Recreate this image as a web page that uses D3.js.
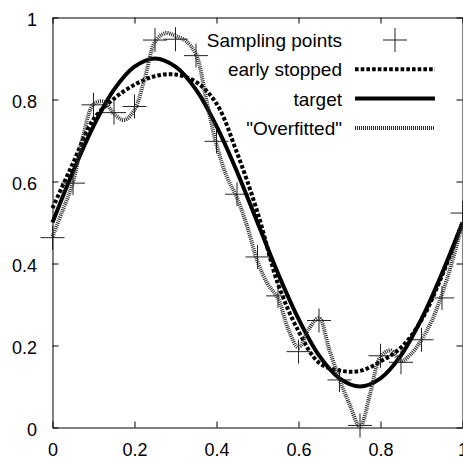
<!DOCTYPE html>
<html>
<head>
<meta charset="utf-8">
<script src="https://cdn.jsdelivr.net/npm/d3@7/dist/d3.min.js"></script>
<style>
	body { margin: 0; background: #fff; }
	svg { display: block; font-family: 'Liberation Sans', Arial, Helvetica, sans-serif; }
</style>
</head>
<body>
<svg id="chart" width="463" height="459"></svg>
<script>
/* eslint-disable no-var, no-undef */

// sampling points
var sampleX = [ 0, 0.05, 0.1, 0.15, 0.2, 0.25, 0.3, 0.35, 0.4, 0.45, 0.5, 0.55, 0.6, 0.65, 0.7, 0.75, 0.8, 0.85, 0.9, 0.95, 1 ];
var sampleY = [ 0.463, 0.596, 0.787, 0.768, 0.783, 0.945, 0.947, 0.907, 0.698, 0.569, 0.416, 0.321, 0.185, 0.261, 0.116, 0.005, 0.175, 0.159, 0.214, 0.316, 0.523 ];

// smooth curves, read every 0.05
var curveX = [ 0, 0.05, 0.1, 0.15, 0.2, 0.25, 0.3, 0.35, 0.4, 0.45, 0.5, 0.55, 0.6, 0.65, 0.7, 0.75, 0.8, 0.85, 0.9, 0.95, 1 ];
var earlyY = [ 0.535, 0.645, 0.752, 0.802, 0.836, 0.857, 0.861, 0.843, 0.79, 0.67, 0.525, 0.35, 0.235, 0.158, 0.139, 0.138, 0.161, 0.195, 0.262, 0.37, 0.5 ];
var targetY = [ 0.5, 0.624, 0.735, 0.824, 0.88, 0.9, 0.88, 0.824, 0.735, 0.624, 0.5, 0.376, 0.265, 0.176, 0.12, 0.1, 0.12, 0.176, 0.265, 0.376, 0.5 ];

// overfitted curve, read every 0.025
var overX = [ 0, 0.025, 0.05, 0.075, 0.1, 0.125, 0.15, 0.175, 0.2, 0.225, 0.25, 0.275, 0.3, 0.325, 0.35, 0.375, 0.4, 0.425, 0.45, 0.475, 0.5,
	0.525, 0.55, 0.575, 0.6, 0.625, 0.65, 0.675, 0.7, 0.725, 0.75, 0.775, 0.8, 0.825, 0.85, 0.875, 0.9, 0.925, 0.95, 0.975, 1 ];
var overY = [ 0.466, 0.53, 0.598, 0.712, 0.788, 0.795, 0.765, 0.75, 0.775, 0.852, 0.94, 0.962, 0.955, 0.943, 0.91, 0.8, 0.69, 0.612, 0.56, 0.49, 0.405,
	0.35, 0.315, 0.24, 0.195, 0.24, 0.267, 0.19, 0.118, 0.055, 0.002, 0.084, 0.172, 0.188, 0.162, 0.18, 0.214, 0.26, 0.325, 0.405, 0.5 ];

var tickValues = [ 0, 0.2, 0.4, 0.6, 0.8, 1 ];
var tickLabels = [ '0', '0.2', '0.4', '0.6', '0.8', '1' ];
var legendLabels = [ 'Sampling points', 'early stopped', 'target', '"Overfitted"' ];

var svg = d3.select( '#chart' );
var margin = { top: 17.5, right: 0.5, bottom: 31.5, left: 52.5 };
var width = +svg.attr( 'width' ) - margin.left - margin.right;
var height = +svg.attr( 'height' ) - margin.top - margin.bottom;
var g = svg.append( 'g' )
	.attr( 'transform', 'translate(' + margin.left + ',' + margin.top + ')' );

var x = d3.scaleLinear().domain( [ 0, 1 ] ).range( [ 0, width ] );
var y = d3.scaleLinear().domain( [ 0, 1 ] ).range( [ height, 0 ] );

function fmt( d, i ) {
	return tickLabels[ i ];
}

// axes: ticks point inward on all four sides
g.append( 'g' )
	.attr( 'transform', 'translate(0,' + height + ')' )
	.call( d3.axisBottom( x ).tickValues( tickValues ).tickFormat( fmt ).tickSizeInner( -6 ).tickSizeOuter( 0 ).tickPadding( 16 ) );
g.append( 'g' )
	.call( d3.axisLeft( y ).tickValues( tickValues ).tickFormat( fmt ).tickSizeInner( -6 ).tickSizeOuter( 0 ).tickPadding( 15.5 ) )
	.selectAll( 'text' ).attr( 'dy', '0.44em' );
g.append( 'g' )
	.call( d3.axisTop( x ).tickValues( tickValues ).tickFormat( '' ).tickSizeInner( -6 ).tickSizeOuter( 0 ) );
g.append( 'g' )
	.attr( 'transform', 'translate(' + width + ',0)' )
	.call( d3.axisRight( y ).tickValues( tickValues ).tickFormat( '' ).tickSizeInner( -6 ).tickSizeOuter( 0 ) );

svg.selectAll( '.tick text' )
	.attr( 'font-family', null )
	.attr( 'font-size', 18 )
	.attr( 'fill', '#000' );
svg.selectAll( '.domain, .tick line' ).attr( 'stroke', '#000' );

// line styles in plot order
var styles = [
	null,
	{ stroke: '#000', width: 4, dash: '3.6 2.1' },
	{ stroke: '#000', width: 4, dash: null },
	{ stroke: '#2a2a2a', width: 4, dash: '1 1' }
];

function drawLine( parent, xs, ys, style, curve ) {
	var pts = xs.map( function( d, i ) {
		return [ d, ys[ i ] ];
	} );
	var line = d3.line()
		.x( function( d ) {
			return x( d[ 0 ] );
		} )
		.y( function( d ) {
			return y( d[ 1 ] );
		} )
		.curve( curve );
	parent.append( 'path' )
		.datum( pts )
		.attr( 'fill', 'none' )
		.attr( 'stroke', style.stroke )
		.attr( 'stroke-width', style.width )
		.attr( 'stroke-dasharray', style.dash )
		.attr( 'd', line );
}

function drawCross( parent, cx, cy ) {
	var s = 12;
	parent.append( 'path' )
		.attr( 'fill', 'none' )
		.attr( 'stroke', '#222' )
		.attr( 'stroke-width', 1 )
		.attr( 'd', 'M' + ( cx - s ) + ',' + cy + 'H' + ( cx + s ) + 'M' + cx + ',' + ( cy - s ) + 'V' + ( cy + s ) );
}

// sampling points
sampleX.forEach( function( d, i ) {
	drawCross( g, x( d ), y( sampleY[ i ] ) );
} );

drawLine( g, curveX, earlyY, styles[ 1 ], d3.curveCatmullRom );
drawLine( g, curveX, targetY, styles[ 2 ], d3.curveCatmullRom );
drawLine( g, overX, overY, styles[ 3 ], d3.curveCatmullRom );

// legend
var legend = svg.append( 'g' );
legendLabels.forEach( function( label, i ) {
	var ly = 40 + i * 29.3;
	legend.append( 'text' )
		.attr( 'x', 342 )
		.attr( 'y', ly )
		.attr( 'dy', 7 )
		.attr( 'text-anchor', 'end' )
		.attr( 'font-size', 19 )
		.text( label );
	if ( i === 0 ) {
		drawCross( legend, 395, ly );
	} else {
		var st = styles[ i ];
		legend.append( 'line' )
			.attr( 'x1', 355 )
			.attr( 'x2', 435 )
			.attr( 'y1', ly )
			.attr( 'y2', ly )
			.attr( 'stroke', st.stroke )
			.attr( 'stroke-width', st.width )
			.attr( 'stroke-dasharray', st.dash );
	}
} );
</script>
</body>
</html>
